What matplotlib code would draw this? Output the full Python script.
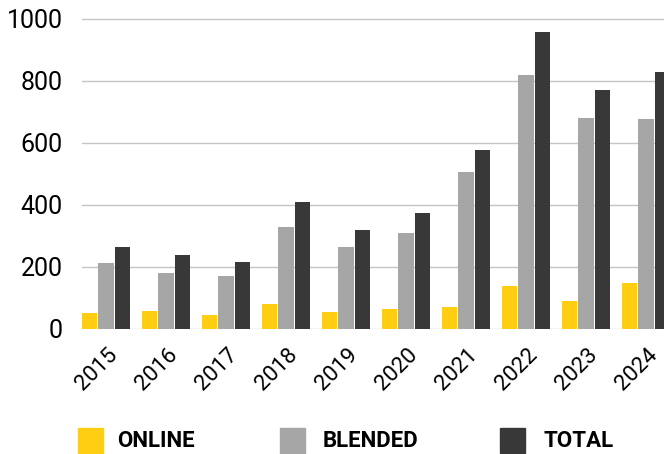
import matplotlib.pyplot as plt
import matplotlib.patches as mpatches
import matplotlib.transforms as mtransforms
import numpy as np

years = ['2015', '2016', '2017', '2018', '2019', '2020', '2021', '2022', '2023', '2024']
online = [52, 58, 45, 80, 55, 65, 70, 138, 89, 149]
blended = [212, 181, 170, 329, 265, 311, 506, 820, 681, 677]
total = [263, 239, 215, 410, 319, 375, 576, 958, 770, 828]

series_names = ['ONLINE', 'BLENDED', 'TOTAL']
colors = ['#FFCD11', '#A6A6A6', '#383838']

fig = plt.figure(figsize=(6.64, 4.54), dpi=100)
ax = fig.add_axes([82 / 664, 1 - 329 / 454, 1 - 82 / 664, (329 - 17) / 454])

x = np.arange(len(years))
step = 0.275
w = 0.26
for k, vals in enumerate([online, blended, total]):
    ax.bar(x + (k - 1) * step, vals, width=w, color=colors[k], zorder=3)

ax.set_xlim(-0.40, 9.30)
ax.set_ylim(0, 1000 * 312 / 310)
ax.set_yticks([0, 200, 400, 600, 800, 1000])
ax.yaxis.grid(True, color='#c4c4c4', linewidth=1.0, zorder=0)
for s in ax.spines.values():
    s.set_visible(False)
ax.tick_params(axis='both', length=0)
ax.tick_params(axis='y', labelsize=18, pad=14)
ax.set_xticks(x)
ax.set_xticklabels(years, rotation=45, ha='right', rotation_mode='anchor',
                   fontsize=16)
ax.tick_params(axis='x', pad=11)
shift = mtransforms.ScaledTranslation(1 / 100, 0, fig.dpi_scale_trans)
for lbl in ax.get_xticklabels():
    lbl.set_transform(lbl.get_transform() + shift)
for lbl in ax.get_yticklabels() + ax.get_xticklabels():
    lbl.set_family(['Roboto', 'DejaVu Sans'])

# legend drawn by hand along the bottom
sq = [78, 280, 500]
tx = [117, 323, 543]
for k in range(3):
    fig.patches.append(mpatches.Rectangle((sq[k] / 664, 1 - 453 / 454), 25 / 664, 25 / 454,
                                          transform=fig.transFigure, color=colors[k]))
    fig.text(tx[k] / 664, 1 - 441 / 454, series_names[k], va='center', ha='left',
             fontsize=16, fontweight='bold',
             family=['Roboto', 'DejaVu Sans'])

fig.savefig('out.png', dpi=100)
